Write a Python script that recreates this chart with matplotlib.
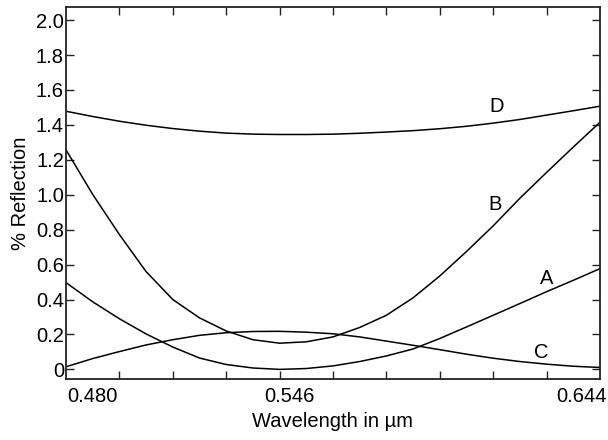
import matplotlib
matplotlib.use("Agg")
import matplotlib.pyplot as plt
from matplotlib.transforms import ScaledTranslation

plt.rcParams['font.family'] = ['Liberation Sans', 'DejaVu Sans']

# wavelength samples (µm)
wavelength = [0.4800, 0.4882, 0.4964, 0.5046, 0.5128, 0.5210, 0.5292, 0.5374,
              0.5456, 0.5538, 0.5620, 0.5702, 0.5784, 0.5866, 0.5948, 0.6030,
              0.6112, 0.6194, 0.6276, 0.6358, 0.6440]

curve_A = [0.497, 0.387, 0.290, 0.203, 0.128, 0.065, 0.028, 0.008,
           0.000, 0.005, 0.020, 0.045, 0.077, 0.117, 0.177, 0.243,
           0.310, 0.377, 0.445, 0.510, 0.577]
curve_B = [1.257, 1.002, 0.772, 0.560, 0.400, 0.295, 0.220, 0.170,
           0.150, 0.158, 0.186, 0.240, 0.310, 0.410, 0.535, 0.675,
           0.822, 0.980, 1.128, 1.273, 1.415]
curve_C = [0.015, 0.062, 0.102, 0.140, 0.170, 0.195, 0.210, 0.217,
           0.218, 0.213, 0.204, 0.186, 0.162, 0.138, 0.113, 0.087,
           0.064, 0.045, 0.030, 0.018, 0.011]
curve_D = [1.478, 1.448, 1.421, 1.398, 1.379, 1.364, 1.353, 1.347,
           1.345, 1.345, 1.347, 1.352, 1.359, 1.367, 1.378, 1.392,
           1.410, 1.431, 1.456, 1.481, 1.507]

series_names = ['A', 'B', 'C', 'D']
label_pos = {'D': (0.6122, 1.504), 'B': (0.6118, 0.945),
             'A': (0.6276, 0.520), 'C': (0.6261, 0.097)}

x_major = [0.480, 0.546, 0.644]
x_major_labels = ['0.480', '0.546', '0.644']
x_minor = [0.480 + 0.0164 * i for i in range(11)]
y_ticks = [0.0, 0.2, 0.4, 0.6, 0.8, 1.0, 1.2, 1.4, 1.6, 1.8, 2.0]
y_tick_labels = ['0', '0.2', '0.4', '0.6', '0.8', '1.0', '1.2', '1.4', '1.6', '1.8', '2.0']

fig = plt.figure(figsize=(6.08, 4.4), dpi=100)
ax = fig.add_axes([66/608, 1 - 379/440, 534/608, 372/440])

for name, data in zip(series_names, [curve_A, curve_B, curve_C, curve_D]):
    ax.plot(wavelength, data, color='black', lw=1.1, solid_joinstyle='round')
    lx, ly = label_pos[name]
    ax.text(lx, ly, name, fontsize=14.5, ha='center', va='center')

ax.set_xlim(0.480, 0.644)
ax.set_ylim(-0.055, 2.075)

ax.set_xticks(x_minor, minor=True)
ax.set_xticks(x_major)
ax.set_xticklabels(x_major_labels)
ax.set_yticks(y_ticks)
ax.set_yticklabels(y_tick_labels)

ax.tick_params(axis='both', which='both', direction='in', top=True, right=True,
               labelsize=14.5, width=1.0, color='#222222')
ax.tick_params(axis='x', which='major', length=0, pad=6)
ax.tick_params(axis='x', which='minor', length=6)
ax.tick_params(axis='y', which='major', length=6, pad=1.5)

offsets = [26, 9, -19]
for lab, dx in zip(ax.get_xticklabels(), offsets):
    lab.set_transform(lab.get_transform() + ScaledTranslation(dx/100, 0, fig.dpi_scale_trans))

for sp in ax.spines.values():
    sp.set_linewidth(1.3)
    sp.set_color('#222222')

ax.set_xlabel('Wavelength in µm', fontsize=14.5, labelpad=4)
ax.set_ylabel('% Reflection', fontsize=14.5, labelpad=4)

fig.savefig('out.png', dpi=100)
